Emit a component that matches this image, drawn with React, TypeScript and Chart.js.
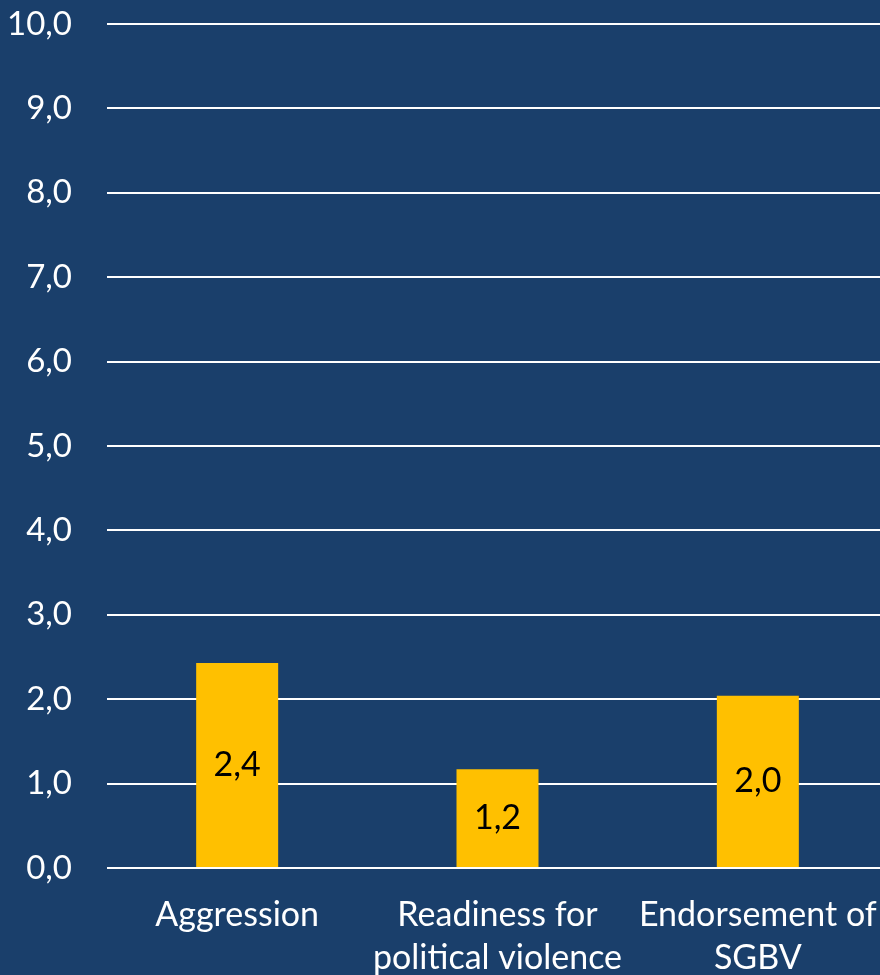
import React, { useEffect, useRef } from "react";
import { Chart, registerables } from "chart.js";

Chart.register(...registerables);

const categories: string[][] = [
  ["Aggression"],
  ["Readiness for", "political violence"],
  ["Endorsement of", "SGBV"],
];
const values: number[] = [2.43, 1.17, 2.04];
const yMin = 0;
const yMax = 10;
const yStep = 1;

const BG = "#1a3f6b";
const BAR = "#ffc000";
const FONT = "Lato, 'DejaVu Sans', sans-serif";

const fmt = (v: number) => v.toFixed(1).replace(".", ",");

const barLabels = {
  id: "barLabels",
  afterDatasetsDraw(chart: any) {
    const ctx = chart.ctx;
    const meta = chart.getDatasetMeta(0);
    ctx.save();
    ctx.font = `34px ${FONT}`;
    ctx.fillStyle = "#000000";
    ctx.textAlign = "center";
    ctx.textBaseline = "middle";
    meta.data.forEach((el: any, i: number) => {
      const v = chart.data.datasets[0].data[i] as number;
      const cy = (el.y + el.base) / 2;
      ctx.fillText(fmt(v), el.x, cy);
    });
    ctx.restore();
  },
};

export default function App() {
  const ref = useRef<HTMLCanvasElement | null>(null);
  useEffect(() => {
    if (!ref.current) return;
    const chart = new Chart(ref.current, {
      type: "bar",
      data: {
        labels: categories,
        datasets: [
          {
            data: values,
            backgroundColor: BAR,
            borderWidth: 0,
            categoryPercentage: 1,
            barPercentage: 0.315,
          },
        ],
      },
      options: {
        responsive: false,
        animation: false,
        devicePixelRatio: 1,
        layout: { padding: { top: 24, right: 2, left: 0, bottom: 0 } },
        plugins: {
          legend: { display: false },
          tooltip: { enabled: false },
        },
        scales: {
          x: {
            grid: { display: false },
            border: { display: false },
            ticks: {
              color: "#ffffff",
              font: { family: FONT, size: 34, lineHeight: 1.25 },
              padding: 18,
              maxRotation: 0,
              autoSkip: false,
            },
            afterFit: (s: any) => {
              s.height = 107;
              s.paddingLeft = 0;
              s.paddingRight = 0;
            },
          },
          y: {
            min: yMin,
            max: yMax,
            grid: {
              color: "#ffffff",
              lineWidth: 2,
              drawTicks: false,
            },
            border: { display: false },
            ticks: {
              stepSize: yStep,
              color: "#ffffff",
              font: { family: FONT, size: 33 },
              padding: 35,
              callback: (v: any) => fmt(Number(v)),
            },
            afterFit: (s: any) => {
              s.width = 107;
              s.paddingTop = 0;
              s.paddingBottom = 0;
            },
          },
        },
      },
      plugins: [barLabels],
    });
    return () => chart.destroy();
  }, []);

  return (
    <div
      style={{
        position: "fixed",
        left: 0,
        top: 0,
        width: 880,
        height: 975,
        overflow: "hidden",
        background: BG,
      }}
    >
      <canvas ref={ref} width={890} height={975} style={{ display: "block" }} />
    </div>
  );
}
